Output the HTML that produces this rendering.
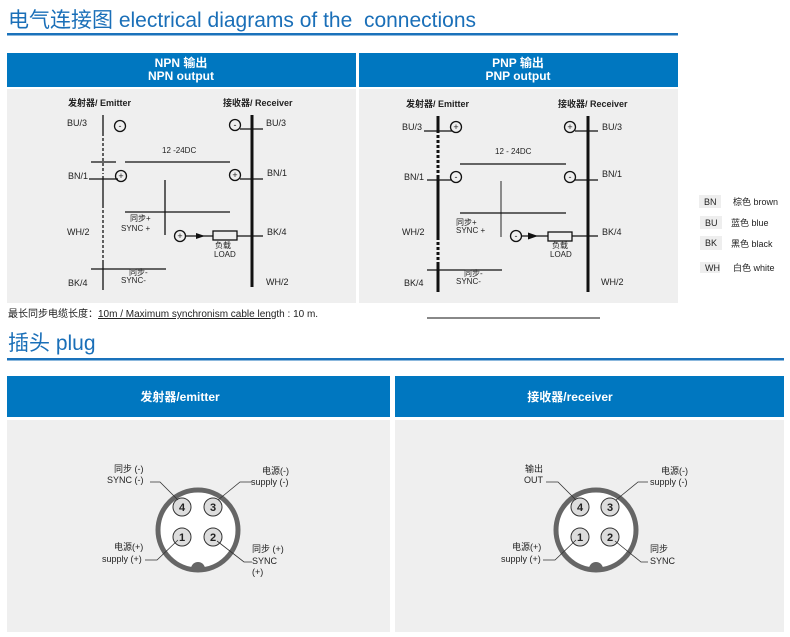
<!DOCTYPE html>
<html><head><meta charset="utf-8"><style>
body{margin:0;background:#fff;width:790px;height:632px;overflow:hidden}
svg text{font-family:"Liberation Sans","Noto Sans CJK SC",sans-serif;fill:#222}
</style></head><body>
<svg width="790" height="632" viewBox="0 0 790 632" xmlns="http://www.w3.org/2000/svg">
<text x="8" y="27" font-size="21" style="fill:#1a6fb8">电气连接图 electrical diagrams of the&#160; connections</text>
<rect x="7" y="33" width="671" height="2.5" fill="#1a72bb"/>
<rect x="7" y="53" width="349" height="34" fill="#0077c0"/>
<rect x="359" y="53" width="319" height="34" fill="#0077c0"/>
<text x="181" y="67" font-size="12" font-weight="bold" text-anchor="middle" style="fill:#fff">NPN 输出</text>
<text x="181" y="80" font-size="12" font-weight="bold" text-anchor="middle" style="fill:#fff">NPN output</text>
<text x="518" y="67" font-size="12" font-weight="bold" text-anchor="middle" style="fill:#fff">PNP 输出</text>
<text x="518" y="80" font-size="12" font-weight="bold" text-anchor="middle" style="fill:#fff">PNP output</text>
<rect x="7" y="89" width="349" height="214" fill="#efefef"/>
<rect x="359" y="89" width="319" height="214" fill="#efefef"/>

<g font-size="9" stroke="none">
<!-- NPN -->
<text x="68" y="106" font-weight="bold">发射器/ Emitter</text>
<text x="223" y="106" font-weight="bold">接收器/ Receiver</text>
<g stroke="#111" stroke-width="1.3" fill="none">
<line x1="103" y1="115" x2="103" y2="133"/>
<line x1="103" y1="133" x2="103" y2="174" stroke-dasharray="3,2"/>
<line x1="103" y1="176" x2="103" y2="205"/>
<line x1="103" y1="205" x2="103" y2="263" stroke-dasharray="3,2"/>
<line x1="103" y1="263" x2="103" y2="287"/>
<line x1="103" y1="287" x2="103" y2="292" stroke-dasharray="3,2"/>
<line x1="252" y1="115" x2="252" y2="287" stroke-width="3"/>
<line x1="240" y1="129" x2="263" y2="129"/>
<line x1="91" y1="162" x2="116" y2="162"/>
<line x1="125" y1="162" x2="230" y2="162"/>
<line x1="89" y1="179" x2="118" y2="179"/>
<line x1="240" y1="179" x2="263" y2="179"/>
<line x1="165" y1="180" x2="165" y2="235"/>
<line x1="125" y1="212" x2="230" y2="212"/>
<line x1="186" y1="236" x2="213" y2="236"/>
<rect x="213" y="231" width="24" height="9"/>
<line x1="237" y1="236" x2="263" y2="236"/>
<line x1="91" y1="269" x2="166" y2="269"/>
<circle cx="120" cy="126" r="5.5"/><circle cx="121" cy="176" r="5.5"/>
<circle cx="235" cy="125" r="5.5"/><circle cx="235" cy="175" r="5.5"/>
<circle cx="180" cy="236" r="5.5"/>
</g>
<polygon points="196,233 205,236 196,239" fill="#111"/>
<text x="120" y="129" text-anchor="middle">-</text><text x="121" y="179" text-anchor="middle">+</text>
<text x="235" y="128" text-anchor="middle">-</text><text x="235" y="178" text-anchor="middle">+</text>
<text x="180" y="239" text-anchor="middle">+</text>
<text x="67" y="126">BU/3</text><text x="266" y="126">BU/3</text>
<text x="68" y="179">BN/1</text><text x="267" y="176">BN/1</text>
<text x="67" y="235">WH/2</text><text x="267" y="235">BK/4</text>
<text x="68" y="286">BK/4</text><text x="266" y="285">WH/2</text>
<text x="162" y="153" font-size="8">12 -24DC</text>
<text x="130" y="221" font-size="8">同步+</text><text x="121" y="231" font-size="8">SYNC +</text>
<text x="215" y="248" font-size="8">负载</text><text x="214" y="257" font-size="8">LOAD</text>
<text x="129" y="275" font-size="8">同步-</text><text x="121" y="283" font-size="8">SYNC-</text>

<!-- PNP -->
<text x="406" y="107" font-weight="bold">发射器/ Emitter</text>
<text x="558" y="107" font-weight="bold">接收器/ Receiver</text>
<g stroke="#111" stroke-width="1.3" fill="none">
<line x1="438" y1="116" x2="438" y2="130" stroke-width="3"/>
<line x1="438" y1="130" x2="438" y2="178" stroke-width="3" stroke-dasharray="3,2"/>
<line x1="438" y1="178" x2="438" y2="237" stroke-width="3"/>
<line x1="438" y1="237" x2="438" y2="263" stroke-width="3" stroke-dasharray="3,2"/>
<line x1="438" y1="263" x2="438" y2="292" stroke-width="3"/>
<line x1="588" y1="116" x2="588" y2="292" stroke-width="3"/>
<line x1="424" y1="131" x2="452" y2="131"/>
<line x1="575" y1="131" x2="598" y2="131"/>
<line x1="460" y1="164" x2="566" y2="164"/>
<line x1="427" y1="180" x2="452" y2="180"/>
<line x1="575" y1="180" x2="598" y2="180"/>
<line x1="501" y1="181" x2="501" y2="237" stroke="#555"/>
<line x1="460" y1="213" x2="566" y2="213"/>
<line x1="522" y1="236" x2="548" y2="236"/>
<rect x="548" y="232" width="24" height="9"/>
<line x1="572" y1="236" x2="598" y2="236"/>
<line x1="427" y1="270" x2="502" y2="270"/>
<circle cx="456" cy="127" r="5.5"/><circle cx="456" cy="177" r="5.5"/>
<circle cx="570" cy="127" r="5.5"/><circle cx="570" cy="177" r="5.5"/>
<circle cx="516" cy="236" r="5.5"/>
</g>
<polygon points="528,232.5 538,236 528,239.5" fill="#111"/>
<text x="456" y="130" text-anchor="middle">+</text><text x="456" y="180" text-anchor="middle">-</text>
<text x="570" y="130" text-anchor="middle">+</text><text x="570" y="180" text-anchor="middle">-</text>
<text x="516" y="239" text-anchor="middle">-</text>
<text x="402" y="130">BU/3</text><text x="602" y="130">BU/3</text>
<text x="404" y="180">BN/1</text><text x="602" y="177">BN/1</text>
<text x="402" y="235">WH/2</text><text x="602" y="235">BK/4</text>
<text x="404" y="286">BK/4</text><text x="601" y="285">WH/2</text>
<text x="495" y="154" font-size="8">12 - 24DC</text>
<text x="456" y="225" font-size="8">同步+</text><text x="456" y="233" font-size="8">SYNC +</text>
<text x="552" y="248" font-size="8">负载</text><text x="550" y="257" font-size="8">LOAD</text>
<text x="464" y="276" font-size="8">同步-</text><text x="456" y="284" font-size="8">SYNC-</text>

<!-- legend -->
<rect x="699" y="195" width="22" height="13" fill="#eee"/><text x="704" y="205">BN</text><text x="733" y="205">棕色 brown</text>
<rect x="700" y="216" width="22" height="13" fill="#eee"/><text x="705" y="226">BU</text><text x="731" y="226">蓝色 blue</text>
<rect x="700" y="236" width="22" height="14" fill="#eee"/><text x="705" y="246">BK</text><text x="731" y="247">黑色 black</text>
<rect x="700" y="262" width="20" height="11" fill="#eee"/><text x="705" y="271">WH</text><text x="733" y="271">白色 white</text>

<text x="8" y="317" font-size="10">最长同步电缆长度：<tspan text-decoration="underline">10m / Maximum synchronism cable len</tspan>gth : 10 m.</text>
<line x1="427" y1="318" x2="600" y2="318" stroke="#111"/>
</g>

<text x="8" y="350" font-size="21" style="fill:#1a6fb8">插头 plug</text>
<rect x="7" y="358" width="777" height="2.5" fill="#1a72bb"/>
<rect x="7" y="376" width="383" height="41" fill="#0077c0"/>
<rect x="395" y="376" width="389" height="41" fill="#0077c0"/>
<text x="180" y="401" font-size="12" font-weight="bold" text-anchor="middle" style="fill:#fff">发射器/emitter</text>
<text x="570" y="401" font-size="12" font-weight="bold" text-anchor="middle" style="fill:#fff">接收器/receiver</text>
<rect x="7" y="420" width="383" height="212" fill="#efefef"/>
<rect x="395" y="420" width="389" height="212" fill="#efefef"/>

<g font-size="9">
<g>
<circle cx="198" cy="530" r="40" fill="#fff" stroke="#666" stroke-width="5"/>
<path d="M191,569 a7,7 0 0 1 14,0 z" fill="#666"/>
<g fill="#ddd" stroke="#333" stroke-width="1">
<circle cx="182" cy="507" r="9"/><circle cx="213" cy="507" r="9"/><circle cx="182" cy="537" r="9"/><circle cx="213" cy="537" r="9"/>
</g>
<g font-weight="bold" font-size="11" text-anchor="middle">
<text x="182" y="511">4</text><text x="213" y="511">3</text><text x="182" y="541">1</text><text x="213" y="541">2</text>
</g>
<g stroke="#333" fill="none" stroke-width="0.8">
<polyline points="150,482 160,482 178,500"/>
<polyline points="252,482 240,482 218,500"/>
<polyline points="145,560 157,560 178,540"/>
<polyline points="217,541 244,562 252,562"/>
</g>
<text x="114" y="472">同步 (-)</text><text x="107" y="483">SYNC (-)</text>
<text x="262" y="474">电源(-)</text><text x="251" y="485">supply (-)</text>
<text x="114" y="550">电源(+)</text><text x="102" y="562">supply (+)</text>
<text x="252" y="552">同步 (+)</text><text x="252" y="564">SYNC</text><text x="252" y="575">(+)</text>
</g>
<g>
<circle cx="596" cy="530" r="40" fill="#fff" stroke="#666" stroke-width="5"/>
<path d="M589,569 a7,7 0 0 1 14,0 z" fill="#666"/>
<g fill="#ddd" stroke="#333" stroke-width="1">
<circle cx="580" cy="507" r="9"/><circle cx="610" cy="507" r="9"/><circle cx="580" cy="537" r="9"/><circle cx="610" cy="537" r="9"/>
</g>
<g font-weight="bold" font-size="11" text-anchor="middle">
<text x="580" y="511">4</text><text x="610" y="511">3</text><text x="580" y="541">1</text><text x="610" y="541">2</text>
</g>
<g stroke="#333" fill="none" stroke-width="0.8">
<polyline points="546,482 558,482 576,500"/>
<polyline points="648,482 638,482 616,500"/>
<polyline points="543,560 555,560 576,540"/>
<polyline points="615,541 641,562 648,562"/>
</g>
<text x="525" y="472">输出</text><text x="524" y="483">OUT</text>
<text x="661" y="474">电源(-)</text><text x="650" y="485">supply (-)</text>
<text x="512" y="550">电源(+)</text><text x="501" y="562">supply (+)</text>
<text x="650" y="552">同步</text><text x="650" y="564">SYNC</text>
</g>
</g>
</svg>
</body></html>
